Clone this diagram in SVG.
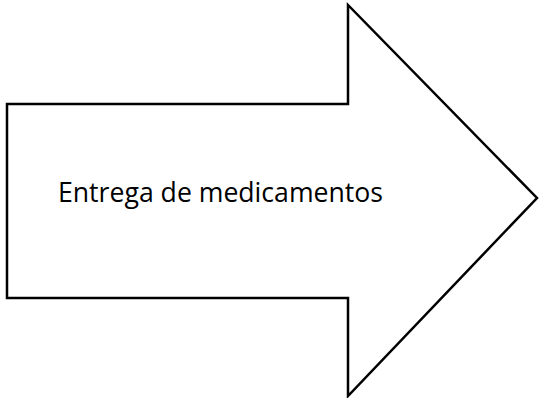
<svg xmlns="http://www.w3.org/2000/svg" width="539" height="398" viewBox="0 0 539 398">
<style>
.shape{fill:#fff;stroke:#000;stroke-width:2.5;stroke-linejoin:miter}
.lbl{font-family:"Open Sans","Liberation Sans",sans-serif;font-size:26.5px;fill:#000}
</style>
<rect width="539" height="398" fill="#fff"/>
<g id="arrow">
<polygon class="shape" points="7,104 348,104 348,5 537,198 348,396 348,298 7,298"/>
<text class="lbl" x="58" y="202" textLength="325" lengthAdjust="spacingAndGlyphs">Entrega de medicamentos</text>
</g>
<g id="connectors"></g>
</svg>
